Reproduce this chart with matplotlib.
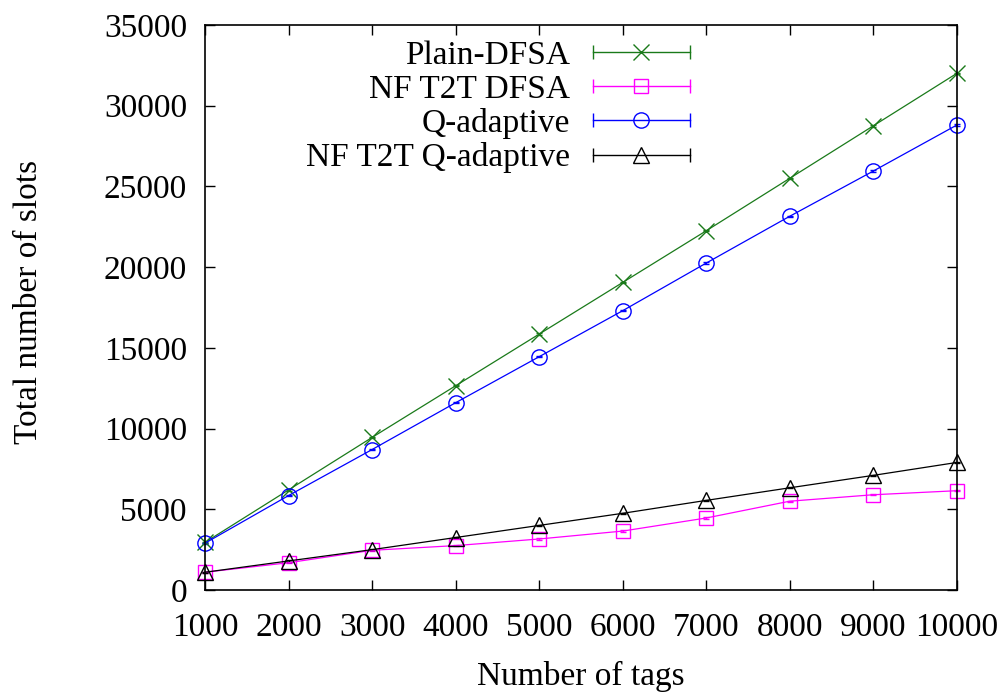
import matplotlib
matplotlib.use("Agg")
import matplotlib.pyplot as plt
from matplotlib.lines import Line2D
from matplotlib.legend_handler import HandlerLine2D, HandlerTuple

plt.rcParams['font.family'] = ['Liberation Serif', 'DejaVu Serif']
plt.rcParams['font.size'] = 24

# dados
tags = [1000, 2000, 3000, 4000, 5000, 6000, 7000, 8000, 9000, 10000]
plain_dfsa = [2950, 6200, 9450, 12650, 15850, 19050, 22250, 25500, 28750, 32000]
nf_t2t_dfsa = [1100, 1690, 2460, 2750, 3160, 3650, 4460, 5500, 5900, 6150]
q_adaptive = [2900, 5850, 8700, 11600, 14450, 17300, 20250, 23150, 25950, 28800]
nf_t2t_q = [1100, 1800, 2500, 3250, 4000, 4750, 5550, 6330, 7100, 7900]

# erro (muito pequeno no original)
erro = [40] * len(tags)

series = [
    ('Plain-DFSA', plain_dfsa, '#1a7a1a', 'x', 11),
    ('NF T2T DFSA', nf_t2t_dfsa, '#ff00ff', 's', 10),
    ('Q-adaptive', q_adaptive, '#0000ff', 'o', 11),
    ('NF T2T Q-adaptive', nf_t2t_q, '#000000', '^', 12),
]

fig = plt.figure(figsize=(10.05, 6.92), dpi=100)
ax = fig.add_axes([0.204, 0.1474, 0.748, 0.8165])

handles = []
hmap = {}
for nome, vals, cor, mk, ms in series:
    ax.errorbar(tags, vals, yerr=erro, color=cor, marker=mk, markersize=ms,
                fillstyle='none', linewidth=0.9, elinewidth=0.9, capsize=2,
                markeredgewidth=1.0, clip_on=False)
    cap = Line2D([0], [0], color=cor, linewidth=1.0, marker='|', markersize=10,
                 markeredgewidth=1.0)
    pt = Line2D([0], [0], color=cor, linestyle='none', marker=mk, markersize=ms,
                fillstyle='none', markeredgewidth=1.0)
    hmap[cap] = HandlerLine2D(numpoints=2, marker_pad=0)
    hmap[pt] = HandlerLine2D(numpoints=1)
    handles.append((cap, pt))
hmap[tuple] = HandlerTuple(ndivide=1)

ax.set_xlim(1000, 10000)
ax.set_ylim(0, 35000)
ax.set_xticks(tags)
ax.set_yticks(range(0, 35001, 5000))
ax.tick_params(direction='in', top=True, right=True, length=7, width=1)
ax.tick_params(axis='x', pad=16)
ax.tick_params(axis='y', pad=13)
for s in ax.spines.values():
    s.set_linewidth(1.2)

ax.set_xlabel('Number of tags', labelpad=13)
ax.set_ylabel('Total number of slots', labelpad=43)
ax.yaxis.label.set_y(0.51)

leg = ax.legend(handles, [s[0] for s in series], handler_map=hmap,
                loc='upper left', bbox_to_anchor=(0.134, 0.973), frameon=False,
                markerfirst=False, handlelength=2.9, handletextpad=0.7,
                labelspacing=0.1, borderaxespad=0, borderpad=0)
for t in leg.get_texts():
    t.set_ha('right')

fig.savefig('out.png', dpi=100)
